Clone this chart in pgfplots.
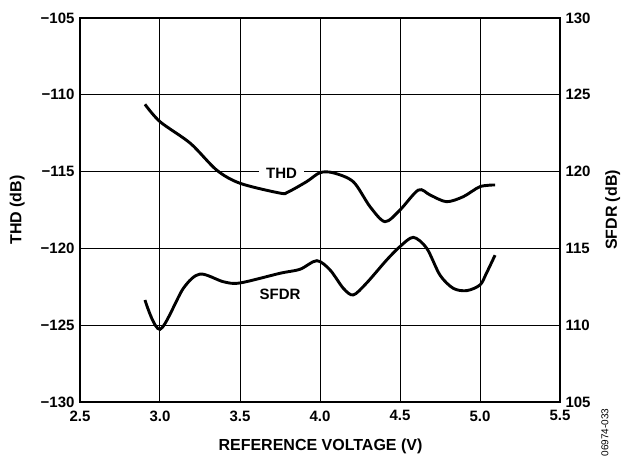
\documentclass[border=0pt]{standalone}
\usepackage{fontspec}
\setmainfont{Liberation Sans}
\usepackage{pgfplots}
\pgfplotsset{compat=1.18}
\newcommand{\tf}{\fontsize{15}{18}\selectfont\bfseries}
\newcommand{\lf}{\fontsize{16}{19}\selectfont\bfseries}
\begin{document}
\begin{tikzpicture}
\pgfplotsset{
  every axis/.append style={
    scale only axis, width=480pt, height=384pt,
    xmin=2.5, xmax=5.5,
    ticklabel style={font=\tf},
    label style={font=\lf},
    major tick length=0pt,
    xticklabel style={yshift=-5pt},
  }
}
\begin{axis}[
  ymin=-130, ymax=-105,
  xtick={2.5,3,3.5,4,4.5,5,5.5},
  xticklabels={2.5,3.0,3.5,4.0,4.5,5.0,5.5},
  ytick={-130,-125,-120,-115,-110,-105},
  yticklabels={−130,−125,−120,−115,−110,−105},
  yticklabel style={xshift=-2pt},
  grid=major, grid style={black, line width=1pt},
  axis line style={line width=2pt},
  ylabel={THD (dB)},
  ylabel style={at={(axis description cs:-0.131,0.5)}, anchor=center},
  xlabel={REFERENCE VOLTAGE (V)},
  xlabel style={at={(axis description cs:0.501,-0.1146)}, anchor=center},
]
\addplot[black, line width=2.9pt, smooth] coordinates {
(2.906,-110.62) (3.0,-111.75) (3.19,-113.16) (3.354,-114.9) (3.5,-115.76)
(3.75,-116.4) (3.8,-116.33) (3.917,-115.65) (4.0,-115.07) (4.083,-115.08)
(4.208,-115.66) (4.3125,-117.28) (4.406,-118.26) (4.5,-117.5) (4.615,-116.2)
(4.6875,-116.52) (4.79,-116.96) (4.896,-116.63) (5.0,-115.98) (5.094,-115.87)
};
\node[fill=white, inner xsep=7pt, inner ysep=2pt, font=\tf] at (axis cs:3.76,-115.1) {THD};
\node[font=\tf] at (axis cs:3.75,-123.0) {SFDR};
\end{axis}
\begin{axis}[
  ymin=105, ymax=130,
  axis x line=none,
  axis y line*=right,
  axis line style={draw=none},
  ytick={105,110,115,120,125,130},
  yticklabels={105,110,115,120,125,130},
  yticklabel style={xshift=2pt},
  ylabel={SFDR (dB)},
  ylabel style={at={(axis description cs:1.110,0.5)}, anchor=center},
]
\addplot[black, line width=2.9pt, smooth] coordinates {
(2.906,111.64) (3.0,109.73) (3.146,112.4) (3.25,113.33) (3.396,112.83)
(3.5,112.75) (3.75,113.38) (3.875,113.64) (3.98,114.2) (4.0625,113.6)
(4.146,112.4) (4.208,111.97) (4.29,112.73) (4.417,114.25) (4.5,115.12)
(4.583,115.72) (4.667,115.01) (4.75,113.26) (4.833,112.4) (4.917,112.25)
(5.0,112.62) (5.04,113.38) (5.094,114.56)
};
\end{axis}
\node[rotate=90, anchor=east, font=\fontsize{10}{12}\selectfont] at (525pt,-3pt) {06974-033};
\pgfresetboundingbox
\path[use as bounding box] (-80pt,-53pt) rectangle (546pt,402pt);
\end{tikzpicture}
\end{document}
